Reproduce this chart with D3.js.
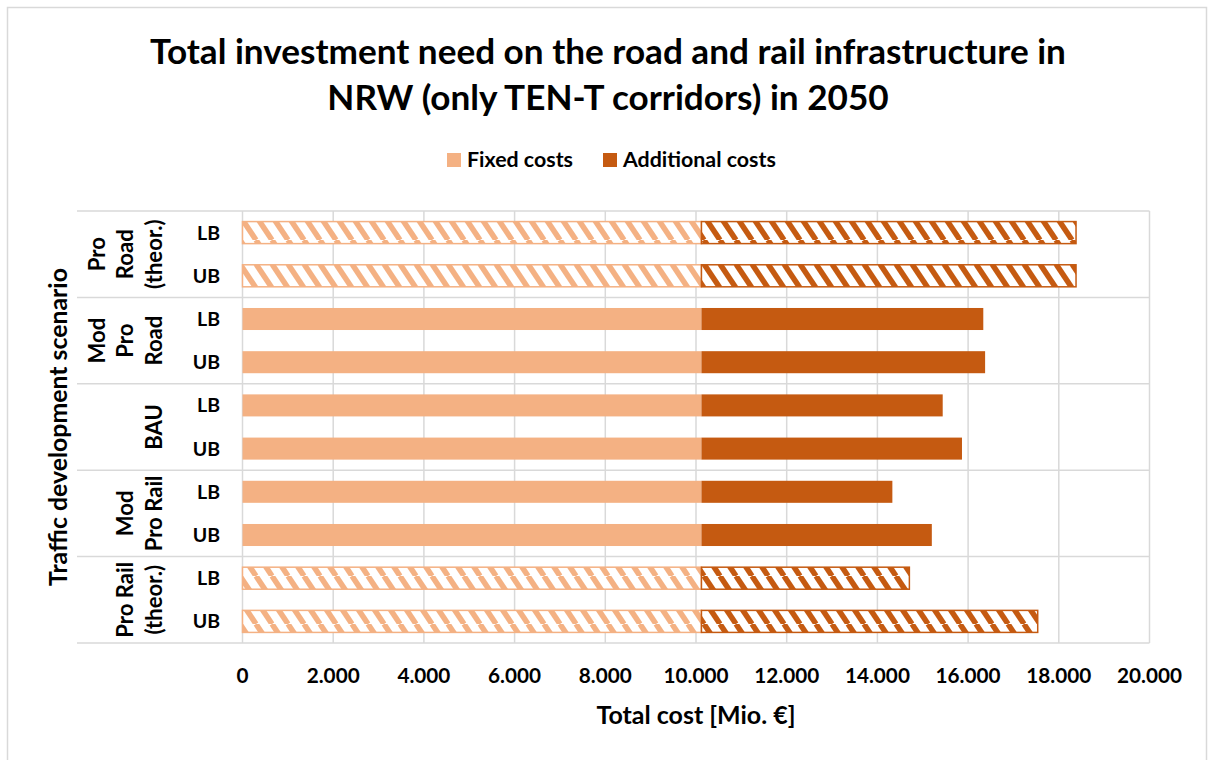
<!DOCTYPE html>
<html>
<head>
<meta charset="utf-8">
<script src="https://cdn.jsdelivr.net/npm/d3@7"></script>
<style>
  html, body { margin: 0; padding: 0; background: #fff; }
  svg text { font-family: Lato, "Open Sans", sans-serif; font-weight: bold; fill: #000; }
</style>
</head>
<body>
<svg id="chart" width="1208" height="760"></svg>
<script>
// ---------- data ----------
const titleLines = ["Total investment need on the road and rail infrastructure in", "NRW (only TEN-T corridors) in 2050"];
const seriesNames = ["Fixed costs", "Additional costs"];
const scenarios = ["Pro Road (theor.)", "Mod Pro Road", "BAU", "Mod Pro Rail", "Pro Rail (theor.)"];
const scenarioLabelLines = [["Pro", "Road", "(theor.)"], ["Mod", "Pro", "Road"], ["BAU"], ["Mod", "Pro Rail"], ["Pro Rail", "(theor.)"]];
const scenarioTheoretical = [true, false, false, false, true];
const bounds = ["LB", "UB"];
// values per row: scenario x bound, top to bottom
const fixedCosts = [10120, 10120, 10120, 10120, 10120, 10120, 10120, 10120, 10120, 10120];
const additionalCosts = [8260, 8260, 6215, 6255, 5320, 5745, 4210, 5080, 4585, 7415];
const xTicks = [0, 2000, 4000, 6000, 8000, 10000, 12000, 14000, 16000, 18000, 20000];
const xTitle = "Total cost [Mio. €]";
const yTitle = "Traffic development scenario";

const colors = { fixed: "#f4b183", additional: "#c55a11" };
const gridColor = "#d9d9d9";

// ---------- rows ----------
const rows = [];
scenarios.forEach((s, si) => bounds.forEach((b, bi) => {
  const i = si * bounds.length + bi;
  rows.push({ id: s + "|" + b, scenario: s, si, bound: b, fixed: fixedCosts[i], add: additionalCosts[i], theor: scenarioTheoretical[si] });
}));

const svg = d3.select("#chart");
const plot = { left: 242.5, right: 1149.5, top: 211, bottom: 643 };

// font size helper: size at which a sample string reaches a target width
function fitSize(sample, target) {
  const t = svg.append("text").style("font-size", "20px").text(sample);
  const w = t.node().getComputedTextLength();
  t.remove();
  return (20 * target / w).toFixed(2) + "px";
}
const fs = {
  title: fitSize(titleLines[0], 916),
  legend: fitSize("Fixed costs", 106),
  tick: fitSize("10.000", 65),
  xTitle: fitSize(xTitle, 199),
  yTitle: fitSize(yTitle, 318),
  group: fitSize("Pro Rail", 76),
  bound: fitSize("LB", 23)
};

const x = d3.scaleLinear().domain([0, 20000]).range([plot.left, plot.right]);
const y = d3.scaleBand().domain(rows.map(r => r.id)).range([plot.top, plot.bottom]).paddingInner(0.49).paddingOuter(0.245);
const step = y.step();

// chart border
svg.append("rect").attr("x", 7.5).attr("y", 7.5).attr("width", 1199).attr("height", 800)
  .attr("fill", "none").attr("stroke", gridColor).attr("stroke-width", 1.5);

// patterns
const defs = svg.append("defs");
function hatch(id, color) {
  const p = defs.append("pattern").attr("id", id).attr("patternUnits", "userSpaceOnUse")
    .attr("width", 16).attr("height", 24);
  p.append("rect").attr("width", 16).attr("height", 24).attr("fill", "#fff");
  [-16, 0, 16].forEach(dx => {
    p.append("line").attr("x1", dx).attr("y1", 0).attr("x2", dx + 16).attr("y2", 24)
      .attr("stroke", color).attr("stroke-width", 5.5);
  });
}
hatch("hFixed", colors.fixed);
hatch("hAdd", colors.additional);

// vertical gridlines
svg.append("g").selectAll("line").data(xTicks).join("line")
  .attr("x1", d => x(d)).attr("x2", d => x(d))
  .attr("y1", plot.top).attr("y2", plot.bottom)
  .attr("stroke", gridColor).attr("stroke-width", 1.5);

// group separators (horizontal) incl. top & bottom
const groupEdges = d3.range(scenarios.length + 1).map(k => plot.top + k * bounds.length * step);
svg.append("g").selectAll("line").data(groupEdges).join("line")
  .attr("x1", 77).attr("x2", plot.right)
  .attr("y1", d => d).attr("y2", d => d)
  .attr("stroke", gridColor).attr("stroke-width", 1.5);

// bars
const bars = svg.append("g");
bars.selectAll("rect.fixed").data(rows).join("rect").attr("class", "fixed")
  .attr("x", x(0)).attr("y", d => y(d.id))
  .attr("width", d => x(d.fixed) - x(0)).attr("height", y.bandwidth())
  .attr("fill", d => d.theor ? "url(#hFixed)" : colors.fixed)
  .attr("stroke", d => d.theor ? colors.fixed : "none").attr("stroke-width", 1.5);
bars.selectAll("rect.add").data(rows).join("rect").attr("class", "add")
  .attr("x", d => x(d.fixed)).attr("y", d => y(d.id))
  .attr("width", d => x(d.fixed + d.add) - x(d.fixed)).attr("height", y.bandwidth())
  .attr("fill", d => d.theor ? "url(#hAdd)" : colors.additional)
  .attr("stroke", d => d.theor ? colors.additional : "none").attr("stroke-width", 1.5);

// x axis tick labels
const fmt = v => d3.format(",")(v).replace(/,/g, ".");
svg.append("g").selectAll("text").data(xTicks).join("text")
  .attr("x", d => x(d)).attr("y", 683).attr("text-anchor", "middle")
  .style("font-size", fs.tick).text(fmt);

// x title
svg.append("text").attr("x", (plot.left + plot.right) / 2).attr("y", 724)
  .attr("text-anchor", "middle").style("font-size", fs.xTitle).text(xTitle);

// bound labels
svg.append("g").selectAll("text").data(rows).join("text")
  .attr("x", 220).attr("y", d => y(d.id) + y.bandwidth() / 2).attr("dy", "0.36em")
  .attr("text-anchor", "end").style("font-size", fs.bound).text(d => d.bound);

// scenario labels (rotated, multiline)
const lineGap = 28.5;
scenarioLabelLines.forEach((lines, si) => {
  const cy = groupEdges[si] + bounds.length * step / 2;
  lines.forEach((ln, li) => {
    const cx = 154 - (lines.length - 1 - li) * lineGap;
    svg.append("text").attr("transform", `translate(${cx},${cy}) rotate(-90)`)
      .attr("text-anchor", "middle").attr("dy", "0.36em")
      .style("font-size", fs.group).text(ln);
  });
});

// y title
svg.append("text").attr("transform", `translate(58,${(plot.top + plot.bottom) / 2}) rotate(-90)`)
  .attr("text-anchor", "middle").attr("dy", "0.36em").style("font-size", fs.yTitle).text(yTitle);

// title
titleLines.forEach((t, i) => {
  svg.append("text").attr("x", 608).attr("y", 64 + i * 46).attr("text-anchor", "middle")
    .style("font-size", fs.title).text(t);
});

// legend
const leg = svg.append("g");
const legendItems = [{ name: seriesNames[0], color: colors.fixed, x: 447 }, { name: seriesNames[1], color: colors.additional, x: 603 }];
legendItems.forEach(it => {
  leg.append("rect").attr("x", it.x).attr("y", 153).attr("width", 14).attr("height", 14).attr("fill", it.color);
  leg.append("text").attr("x", it.x + 20).attr("y", 167).style("font-size", fs.legend).text(it.name);
});
</script>
</body>
</html>
